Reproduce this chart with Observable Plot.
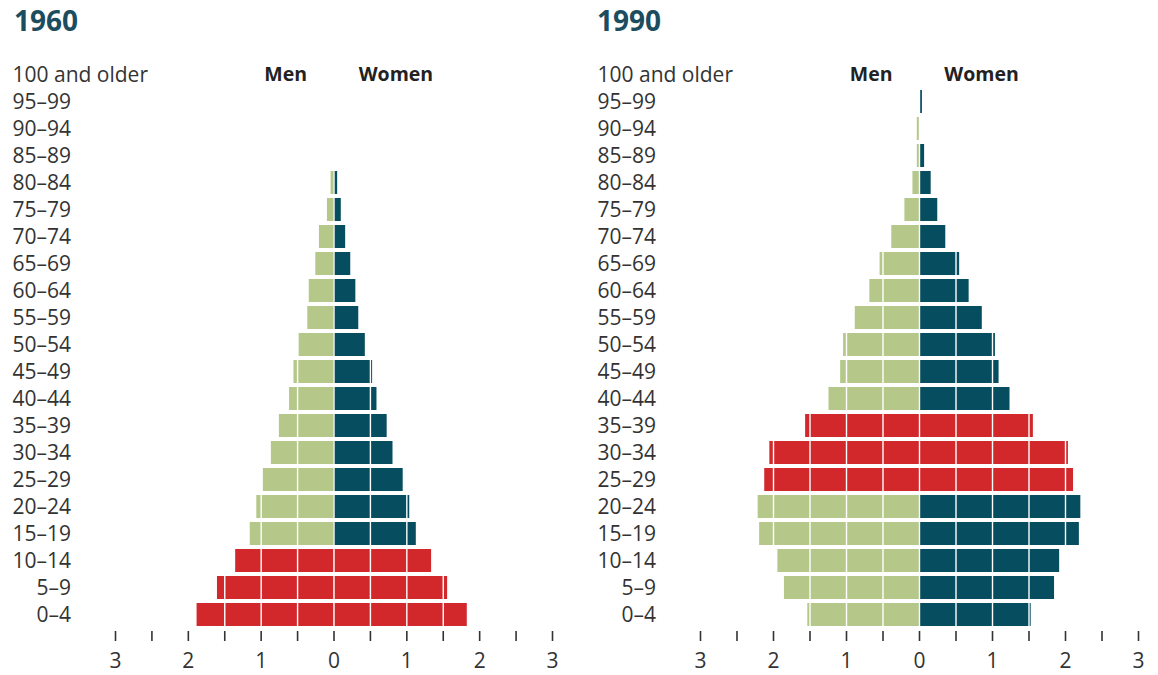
<!DOCTYPE html>
<html>
<head>
<meta charset="utf-8">
<script src="https://cdn.jsdelivr.net/npm/d3@7"></script>
<script src="https://cdn.jsdelivr.net/npm/@observablehq/plot@0.6"></script>
<style>
  body { margin: 0; background: #fff; font-family: "Open Sans", sans-serif; }
  #wrap { display: flex; width: 1158px; height: 675px; }
  .panel { width: 579px; position: relative; }
  .title { height: 40px; line-height: 40px; font-size: 28px; font-weight: 700; color: #1b4d5f; padding-left: 14px; }
  .panel + .panel .title { padding-left: 18px; }
  svg { display: block; }
</style>
</head>
<body>
<div id="wrap"></div>
<script>
// Age groups, bottom to top
const ages = ["0–4","5–9","10–14","15–19","20–24","25–29","30–34","35–39","40–44","45–49",
  "50–54","55–59","60–64","65–69","70–74","75–79","80–84","85–89","90–94","95–99","100 and older"];

// 1960 (percent of population)
const men1960   = [1.88,1.60,1.35,1.15,1.06,0.97,0.86,0.75,0.61,0.55,0.48,0.36,0.34,0.25,0.20,0.09,0.04,0,0,0,0];
const women1960 = [1.83,1.56,1.34,1.13,1.04,0.95,0.81,0.73,0.59,0.53,0.43,0.34,0.30,0.23,0.16,0.10,0.05,0,0,0,0];
const highlight1960 = ["0–4","5–9","10–14"];

// 1990 (percent of population)
const men1990   = [1.53,1.85,1.94,2.19,2.21,2.12,2.05,1.56,1.24,1.08,1.04,0.88,0.68,0.54,0.38,0.20,0.09,0.03,0.03,0,0];
const women1990 = [1.53,1.85,1.92,2.19,2.21,2.11,2.04,1.56,1.24,1.09,1.04,0.86,0.68,0.55,0.36,0.25,0.16,0.07,0,0.04,0];
const highlight1990 = ["25–29","30–34","35–39"];

const years = ["1960","1990"];
const tickValues = [-3,-2.5,-2,-1.5,-1,-0.5,0,0.5,1,1.5,2,2.5,3];
const sexLabels = ["Men","Women"];

const colors = {men: "#b5c88a", women: "#054d5f", highlight: "#d2282c"};

function buildRows(men, women, highlight) {
  const rows = [];
  ages.forEach((a, i) => {
    const hl = highlight.includes(a);
    rows.push({age: a, sex: "Men", v: -men[i], fill: hl ? colors.highlight : colors.men});
    rows.push({age: a, sex: "Women", v: women[i], fill: hl ? colors.highlight : colors.women});
  });
  return rows;
}

const panels = [
  {year: years[0], rows: buildRows(men1960, women1960, highlight1960), ml: 115, mr: 27},
  {year: years[1], rows: buildRows(men1990, women1990, highlight1990), ml: 121, mr: 20}
];

const wrap = document.getElementById("wrap");
const yDomain = ages.slice().reverse();

panels.forEach(p => {
  const div = document.createElement("div");
  div.className = "panel";
  const t = document.createElement("div");
  t.className = "title";
  t.textContent = p.year;
  div.appendChild(t);

  const chart = Plot.plot({
    width: 579,
    height: 635,
    marginLeft: p.ml,
    marginRight: p.mr,
    marginTop: 20.5,
    marginBottom: 44,
    insetBottom: 3.5,
    style: {fontFamily: "Open Sans, sans-serif", fontSize: "21px", color: "#333", background: "transparent"},
    x: {domain: [-3, 3]},
    y: {domain: yDomain, paddingInner: 0.15, paddingOuter: 0.075},
    marks: [
      Plot.barX(p.rows, {y: "age", x1: 0, x2: "v", fill: "fill"}),
      Plot.ruleX(tickValues, {stroke: "white", strokeWidth: 1.4}),
      Plot.axisX({ticks: tickValues, tickSize: 10, tickPadding: 12, strokeWidth: 1.6, fontSize: 21,
        tickFormat: d => Number.isInteger(d) ? String(Math.abs(d)) : "", label: null}),
      Plot.axisY({tickSize: 0, tickPadding: p.ml - (p.year === "1960" ? 12 : 18), textAnchor: "start", fontSize: 21,
        tickFormat: d => d.length === 3 ? "\u2007\u2007" + d : d, label: null}),
      Plot.text([sexLabels[0]], {x: -0.37, y: [ages[ages.length - 1]], text: d => d, textAnchor: "end", fontWeight: "bold", fontSize: 19.5, fill: "#222"}),
      Plot.text([sexLabels[1]], {x: 0.34, y: [ages[ages.length - 1]], text: d => d, textAnchor: "start", fontWeight: "bold", fontSize: 19.5, fill: "#222"})
    ]
  });
  div.appendChild(chart);
  wrap.appendChild(div);
});
</script>
</body>
</html>
